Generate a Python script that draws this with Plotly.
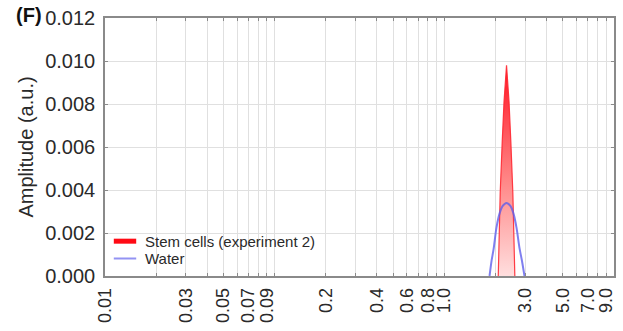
import plotly.graph_objects as go

# Particle size distribution (x: size, log scale)
stem_x = [2.079, 2.135, 2.194, 2.248, 2.326, 2.406, 2.466, 2.533, 2.603]
stem_y = [0.0, 0.0039, 0.00625, 0.0081, 0.0098, 0.0081, 0.00625, 0.0039, 0.0]

water_x = [1.847, 1.898, 1.951, 2.031, 2.115, 2.203, 2.326, 2.456, 2.557, 2.663, 2.774, 2.869, 2.968]
water_y = [0.0, 0.0007, 0.00125, 0.00227, 0.0029, 0.00325, 0.0034, 0.00325, 0.0029, 0.00225, 0.0013, 0.0007, 0.0]

# Log grid positions and their labels (blank = grid line only)
x_tickvals = [0.01, 0.02, 0.03, 0.04, 0.05, 0.06, 0.07, 0.08, 0.09,
              0.1, 0.2, 0.3, 0.4, 0.5, 0.6, 0.7, 0.8, 0.9,
              1, 2, 3, 4, 5, 6, 7, 8, 9, 10]
x_ticktext = ["0.01", "", "0.03", "", "0.05", "", "0.07", "", "0.09",
              "", "0.2", "", "0.4", "", "0.6", "", "0.8", "", "1.0",
              "", "3.0", "", "5.0", "", "7.0", "", "9.0", ""]
y_tickvals = [0.0, 0.002, 0.004, 0.006, 0.008, 0.010, 0.012]

FONT = "Liberation Sans, Arial, sans-serif"
TXT = "#2a2a2a"
FRAME = "#8a8a8a"
GRID = "#e0e0e0"

fig = go.Figure()

fig.add_trace(go.Scatter(
    x=stem_x, y=stem_y, mode="lines", fill="tozeroy",
    line=dict(color="rgba(255,40,50,0.9)", width=1.2),
    fillgradient=dict(type="vertical",
                      colorscale=[[0, "rgba(255,222,222,1)"],
                                  [0.45, "rgba(255,135,135,1)"],
                                  [1, "rgba(255,20,35,1)"]]),
    showlegend=False, hoverinfo="skip",
))
fig.add_trace(go.Scatter(
    x=water_x, y=water_y, mode="lines",
    line=dict(color="rgba(95,95,235,0.8)", width=2, shape="spline", smoothing=0.8),
    showlegend=False, hoverinfo="skip",
))

# Legend entries (one legend box per row for tight spacing)
fig.add_trace(go.Scatter(
    x=[None], y=[None], mode="markers", name="Stem cells (experiment 2)",
    marker=dict(symbol="line-ew", size=19, line=dict(color="#ff0a14", width=10)),
    legend="legend",
))
fig.add_trace(go.Scatter(
    x=[None], y=[None], mode="markers", name="Water",
    marker=dict(symbol="line-ew", size=19, line=dict(color="rgba(120,120,240,0.8)", width=2)),
    legend="legend2",
))

legend_style = dict(xanchor="left", yanchor="middle", bgcolor="rgba(0,0,0,0)",
                    font=dict(size=15, color=TXT), itemwidth=30)

fig.update_layout(
    width=623, height=331,
    margin=dict(l=105, r=7, t=15, b=55),
    paper_bgcolor="white", plot_bgcolor="white",
    font=dict(family=FONT, color=TXT),
    legend=dict(x=0.0, y=0.134, **legend_style),
    legend2=dict(x=0.0, y=0.067, **legend_style),
    annotations=[dict(text="<b>(F)</b>", xref="paper", yref="paper",
                      x=-0.178, y=1.01, xanchor="left", yanchor="middle",
                      showarrow=False, font=dict(size=20, color="#111"))],
)

fig.update_xaxes(
    type="log", range=[-2, 1],
    tickmode="array", tickvals=x_tickvals, ticktext=x_ticktext,
    tickangle=-90, tickfont=dict(size=18, color=TXT), ticklabelstandoff=3,
    showgrid=True, gridcolor=GRID, gridwidth=1,
    showline=True, linecolor=FRAME, linewidth=1.5, mirror="allticks",
    ticks="inside", ticklen=3, tickcolor=FRAME,
    zeroline=False,
)
fig.update_yaxes(
    range=[0, 0.012], tickvals=y_tickvals, tickformat=".3f",
    tickfont=dict(size=20, color=TXT), ticklabelstandoff=4,
    title=dict(text="Amplitude (a.u.)", font=dict(size=20, color=TXT), standoff=6),
    showgrid=True, gridcolor=GRID, gridwidth=1,
    showline=True, linecolor=FRAME, linewidth=1.5, mirror="allticks",
    ticks="inside", ticklen=3, tickcolor=FRAME,
    zeroline=False,
)

fig.write_html("out.html")
